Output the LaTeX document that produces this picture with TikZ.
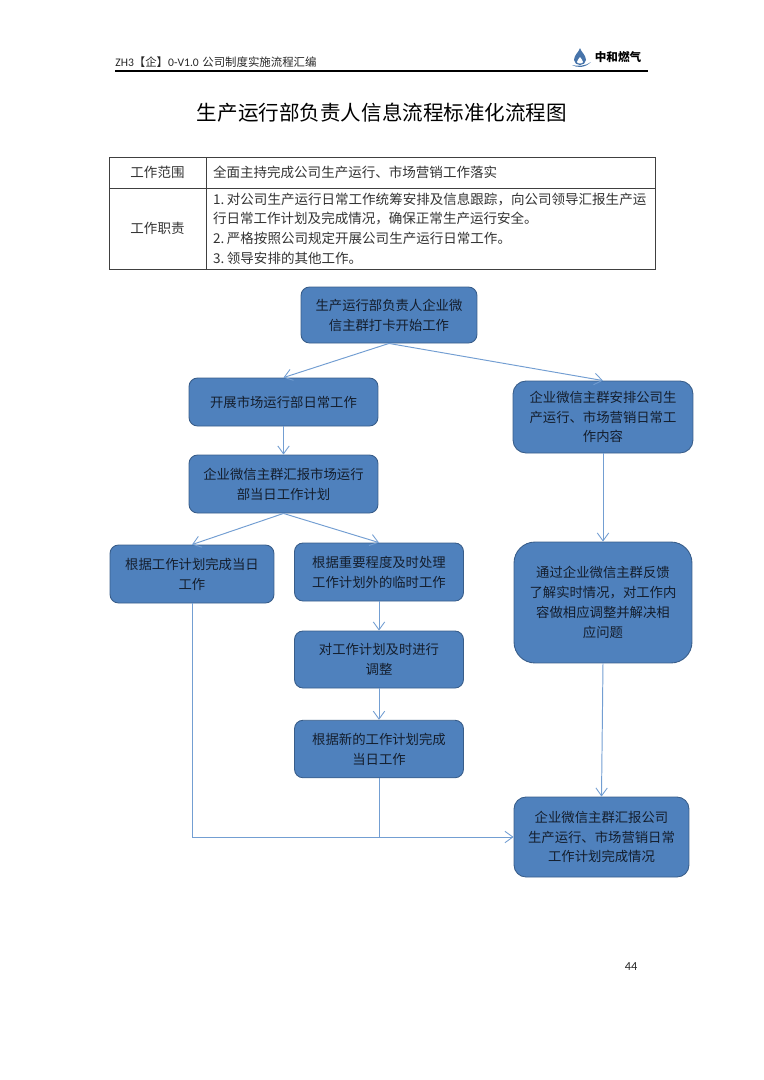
\documentclass[tikz,border=0pt]{standalone}
\usepackage{fontspec}
\usepackage{tikz}
\usetikzlibrary{arrows.meta}
\setmainfont{Noto Sans CJK SC}
\newfontfamily\hdrfont{Carlito}
\definecolor{flowfill}{RGB}{79,129,189}
\definecolor{flowedge}{RGB}{56,93,138}
\definecolor{flowlink}{RGB}{115,158,210}
\definecolor{flowtext}{RGB}{20,30,45}
\tikzset{
  flowbox/.style={draw=flowedge,fill=flowfill,line width=0.5pt,rounded corners=0.17cm,
    text=flowtext,align=center,inner sep=0pt,font=\fontsize{7.6}{11.3}\selectfont},
  flowlink/.style={draw=flowlink,line width=0.55pt,-{Straight Barb[length=4.5pt,width=6.5pt,line width=0.5pt]}},
  flowplain/.style={draw=flowlink,line width=0.55pt},
  cellbox/.style={draw=black!75,line width=0.5pt,inner sep=0pt,text=black!80,
    font=\fontsize{7.7}{11.2}\selectfont}
}
\begin{document}
\begin{tikzpicture}[x=0.02cm,y=-0.02cm]
\useasboundingbox (0,0) rectangle (764,1080);
% header
\node [anchor=base west,inner sep=0pt,text=black!85] (hdrtext) at (115,66)
  {\fontsize{6.5}{8}\selectfont{\hdrfont\fontsize{6.6}{8}\selectfont ZH3}【企】{\hdrfont\fontsize{6.6}{8}\selectfont 0-V1.0}\hspace{2pt}公司制度实施流程汇编};
\draw [line width=0.75pt] (115,71) -- (648,71);
\fill [flowfill!90!black] (580,48) .. controls (581,52) and (586,55) .. (586,60)
  .. controls (586,63) and (583,65) .. (580,65) .. controls (577,65) and (574,63) .. (574,60)
  .. controls (574,55) and (579,52) .. (580,48) -- cycle;
\fill [white] (580,57) .. controls (581,59) and (583,60) .. (583,62)
  .. controls (583,64) and (577,64) .. (577,62) .. controls (577,60) and (579,59) .. (580,57) -- cycle;
\fill [flowfill!90!black] (572,65) .. controls (577,68) and (585,68) .. (591,62)
  .. controls (586,66) and (578,66.5) .. (572,65) -- cycle;
\node [inner sep=0pt,font=\fontsize{6.6}{8}\bfseries\selectfont] (logotext) at (618,57) {中和燃气};
% title
\node [inner sep=0pt,text=black,font=\fontsize{11.7}{14}\selectfont] (title) at (382,113)
  {生产运行部负责人信息流程标准化流程图};
% table
\node [cellbox,minimum width=1.94cm,minimum height=0.62cm] (rangehead) at (157.5,172.5) {工作范围};
\node [cellbox,minimum width=8.98cm,minimum height=0.62cm,text width=8.7cm,align=left] (rangebody) at (430.5,172.5)
  {全面主持完成公司生产运行、市场营销工作落实};
\node [cellbox,minimum width=1.94cm,minimum height=1.62cm] (dutyhead) at (157.5,228.5) {工作职责};
\node [cellbox,minimum width=8.98cm,minimum height=1.62cm,text width=8.7cm,align=left] (dutybody) at (430.5,228.5)
  {1.\hspace{1.5pt}对公司生产运行日常工作统筹安排及信息跟踪，向公司领导汇报生产运\\
   行日常工作计划及完成情况，确保正常生产运行安全。\\
   2.\hspace{1.5pt}严格按照公司规定开展公司生产运行日常工作。\\
   3.\hspace{1.5pt}领导安排的其他工作。};
% flow boxes
\node [flowbox,minimum width=3.52cm,minimum height=1.12cm] (start) at (389,315)
  {生产运行部负责人企业微\\信主群打卡开始工作};
\node [flowbox,minimum width=3.78cm,minimum height=0.96cm] (market) at (283.5,402)
  {开展市场运行部日常工作};
\node [flowbox,minimum width=3.78cm,minimum height=1.16cm] (report) at (283.5,484)
  {企业微信主群汇报市场运行\\部当日工作计划};
\node [flowbox,minimum width=3.28cm,minimum height=1.16cm] (plan) at (192,574)
  {根据工作计划完成当日\\工作};
\node [flowbox,minimum width=3.38cm,minimum height=1.16cm] (urgent) at (379,572)
  {根据重要程度及时处理\\工作计划外的临时工作};
\node [flowbox,minimum width=3.38cm,minimum height=1.14cm] (adjust) at (379,659.5)
  {对工作计划及时进行\\调整};
\node [flowbox,minimum width=3.38cm,minimum height=1.15cm] (newplan) at (379,749)
  {根据新的工作计划完成\\当日工作};
\node [flowbox,rounded corners=0.26cm,minimum width=3.6cm,minimum height=1.44cm] (arrange) at (603,417)
  {企业微信主群安排公司生\\产运行、市场营销日常工\\作内容};
\node [flowbox,rounded corners=0.42cm,minimum width=3.56cm,minimum height=2.42cm] (feedback) at (603,602.5)
  {通过企业微信主群反馈\\了解实时情况，对工作内\\容做相应调整并解决相\\应问题};
\node [flowbox,rounded corners=0.24cm,minimum width=3.5cm,minimum height=1.6cm] (finish) at (601.5,837)
  {企业微信主群汇报公司\\生产运行、市场营销日常\\工作计划完成情况};
% connectors
\draw [flowlink] (start.south) -- (market.north);
\draw [flowlink] (start.south) -- (arrange.north);
\draw [flowlink] (market) -- (report);
\draw [flowlink] (report.south) -- (plan.north);
\draw [flowlink] (report.south) -- (urgent.north);
\draw [flowlink] (urgent) -- (adjust);
\draw [flowlink] (adjust) -- (newplan);
\draw [flowlink] (arrange) -- (feedback);
\draw [flowlink] (feedback.south) -- (finish.north);
\draw [flowlink] (plan.south) |- (finish.west);
\draw [flowplain] (newplan.south) -- (newplan.south |- finish.west);
% page number
\node [inner sep=0pt,text=black!85,font=\hdrfont\fontsize{7}{8}\selectfont] (pagenum) at (631,967) {44};
\end{tikzpicture}
\end{document}
